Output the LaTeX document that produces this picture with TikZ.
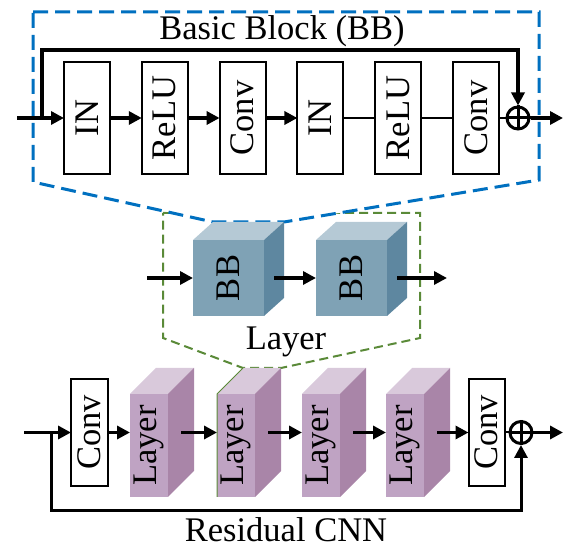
\documentclass[tikz,border=0pt]{standalone}
\usepackage{fontspec}
\setmainfont{Liberation Serif}
\usepackage{graphicx}
\usepackage{tikz}
\usetikzlibrary{arrows.meta}

\definecolor{bbblue}{HTML}{0070C0}
\definecolor{laygreen}{HTML}{5A8A38}
\definecolor{bbfront}{HTML}{7FA2B5}
\definecolor{bbtop}{HTML}{B5C9D5}
\definecolor{bbside}{HTML}{5E87A0}
\definecolor{layfront}{HTML}{BFA3C3}
\definecolor{laytop}{HTML}{D9C9DB}
\definecolor{layside}{HTML}{A985A8}

\tikzset{
  blk/.style={draw, line width=2pt, fill=white, inner sep=0pt, outer sep=0pt,
    minimum width=46pt, minimum height=112pt},
  convblk/.style={blk, minimum width=37pt, minimum height=107pt},
  bbface/.style={fill=bbfront, inner sep=0pt, outer sep=0pt,
    minimum width=71pt, minimum height=76pt},
  layface/.style={fill=layfront, inner sep=0pt, outer sep=0pt,
    minimum width=38pt, minimum height=103pt},
  sum/.style={circle, draw, line width=3pt, inner sep=0pt, minimum size=22pt},
  arr/.style={line width=3.5pt, -{Triangle[length=13pt,width=13pt]}},
  plain/.style={line width=2pt},
  skipline/.style={line width=3.5pt},
  fbline/.style={line width=3pt}
}

% top face, side face, and a point in the middle of the side face
\newcommand{\cuboid}[5]{%
  \fill[#4] (#1.north west) -- ++(#2,-#3) -- ([shift={(#2,-#3)}]#1.north east)
    -- (#1.north east) -- cycle;
  \fill[#5] (#1.north east) -- ([shift={(#2,-#3)}]#1.north east)
    -- ([shift={(#2,-#3)}]#1.south east) -- (#1.south east) -- cycle;
  \coordinate (#1-s) at ([shift={({#2/2},{-#3/2})}]#1.east);
}

\begin{document}
\begin{tikzpicture}[x=1pt, y=-1pt, font=\fontsize{34.5}{40}\selectfont]
\useasboundingbox (0,0) rectangle (582,553);

% outlines of the zoom
    \draw[laygreen, line width=2pt, dash pattern=on 9pt off 5pt]
(163,213) --
(420,213) --
(420,338) --
(281,368) --
(243,368) --
(163,338) --
cycle;
    \draw[bbblue, fill=white, line width=3pt, dash pattern=on 15pt off 7pt]
(33,12) --
(539,12) --
(539,180) --
(284,222) --
(213,222) --
(33,182) --
cycle;

% basic block
\node[anchor=base] (bbtitle) at (282,40) {Basic Block (BB)};
\node[blk] (in1) at (87,118) {\rotatebox{90}{IN}};
\node[blk] (relu1) at (164.8,118) {\rotatebox{90}{ReLU}};
\node[blk] (conv1) at (242.6,118) {\rotatebox{90}{Conv}};
\node[blk] (in2) at (320.4,118) {\rotatebox{90}{IN}};
\node[blk] (relu2) at (398.2,118) {\rotatebox{90}{ReLU}};
\node[blk] (conv2) at (476,118) {\rotatebox{90}{Conv}};
\node[sum] (sumA) at (518,118) {};
\draw[line width=3pt] (sumA.north) -- (sumA.south) (sumA.west) -- (sumA.east);
\coordinate (bbin) at (17,118);
\coordinate (split) at (42,118);
\coordinate (bbout) at (563,118);

\draw[arr] (bbin) -- (in1.west);
\draw[arr] (in1.east) -- (relu1.west);
\draw[arr] (relu1.east) -- (conv1.west);
\draw[arr] (conv1.east) -- (in2.west);
\draw[plain] (in2.east) -- (relu2.west);
\draw[plain] (relu2.east) -- (conv2.west);
\draw[plain] (conv2.east) -- (sumA.west);
\draw[arr] (sumA.east) -- (bbout);
\draw[skipline, -{Triangle[length=13pt,width=13pt]}] (split) |- (518,50) -- (sumA.north);

% layer
\node[bbface] (bb1) at (228.5,278) {\rotatebox{90}{BB}};
\cuboid{bb1}{20}{18}{bbtop}{bbside}
\node[bbface] (bb2) at (351.5,278) {\rotatebox{90}{BB}};
\cuboid{bb2}{20}{18}{bbtop}{bbside}
\node[anchor=base] (laytitle) at (286,350) {Layer};
\coordinate (layin) at (147,278);
\coordinate (layout) at (447,278);

\draw[arr] (layin) -- (bb1.west);
\draw[arr] ([xshift=10pt]bb1.east) -- (bb2.west);
\draw[arr] ([xshift=10pt]bb2.east) -- (layout);

% residual cnn
\node[convblk] (convA) at (89.5,432.5) {\rotatebox{90}{Conv}};
\node[layface] (lay1) at (149,445.5) {\rotatebox{90}{Layer}};
\cuboid{lay1}{26}{26}{laytop}{layside}
\node[layface] (lay2) at (236,445.5) {\rotatebox{90}{Layer}};
\cuboid{lay2}{26}{26}{laytop}{layside}
\draw[laygreen, line width=1pt] (lay2.south west) -- (lay2.north west) -- ++(26,-26);
\node[layface] (lay3) at (321,445.5) {\rotatebox{90}{Layer}};
\cuboid{lay3}{26}{26}{laytop}{layside}
\node[layface] (lay4) at (405,445.5) {\rotatebox{90}{Layer}};
\cuboid{lay4}{26}{26}{laytop}{layside}
\node[convblk, minimum width=36pt] (convB) at (486.5,432.5) {\rotatebox{90}{Conv}};
\node[sum] (sumB) at (521,432.5) {};
\draw[line width=3pt] (sumB.north) -- (sumB.south) (sumB.west) -- (sumB.east);
\node[anchor=base] (cnntitle) at (286,542) {Residual CNN};
\coordinate (cnnin) at (24,432.5);
\coordinate (fork) at (51,432.5);
\coordinate (cnnout) at (563,432.5);

\draw[arr] (cnnin) -- (convA.west);
\draw[arr] (convA.east) -- (lay1.west |- convA.east);
\draw[arr] (lay1-s) -- (lay2.west |- lay1-s);
\draw[arr] (lay2-s) -- (lay3.west |- lay2-s);
\draw[arr] (lay3-s) -- (lay4.west |- lay3-s);
\draw[arr] (lay4-s) -- (convB.west);
\draw[plain] (convB.east) -- (sumB.west);
\draw[arr] (sumB.east) -- (cnnout);
\draw[fbline, -{Triangle[length=13pt,width=13pt]}] (fork) -- (51,511) -| (sumB.south);
\end{tikzpicture}
\end{document}
